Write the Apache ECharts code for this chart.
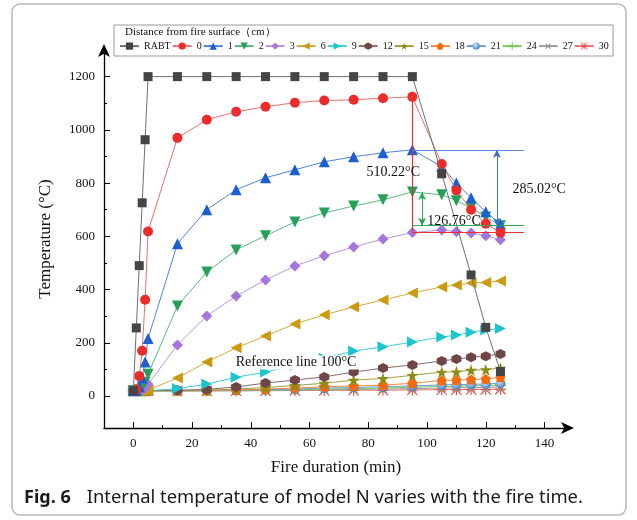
<!DOCTYPE html>
<html>
<head>
<meta charset="utf-8">
<script src="https://cdn.jsdelivr.net/npm/echarts@6/dist/echarts.min.js"></script>
<style>
  html, body { margin: 0; padding: 0; background: #fff; }
  #chart { width: 637px; height: 520px; }
</style>
</head>
<body>
<div id="chart"></div>
<script>
// Fire duration (min) at which temperatures were recorded
const times = [0, 1, 2, 3, 4, 5, 15, 25, 35, 45, 55, 65, 75, 85, 95, 105, 110, 115, 120, 125];

// RABT curve and internal temperatures (°C) at each depth below the fire surface (cm)
const rabt = [20, 256, 490, 726, 963, 1200, 1200, 1200, 1200, 1200, 1200, 1200, 1200, 1200, 1200, 835, null, 455, 258, 92];
const d0  = [20, 25, 75, 170, 362, 618, 970, 1038, 1068, 1087, 1102, 1110, 1113, 1119, 1124, 872, 772, 700, 647, 614];
const d1  = [20, 21, 35, 68, 128, 216, 572, 700, 775, 820, 850, 880, 899, 914, 925, 862, 800, 745, 692, 645];
const d2  = [20, 20, 24, 33, 52, 82, 338, 466, 549, 602, 654, 688, 714, 737, 767, 756, 734, 707, 673, 640];
const d3  = [20, 20, 21, 24, 30, 44, 192, 301, 376, 436, 489, 527, 560, 590, 614, 624, 617, 613, 602, 587];
const d6  = [20, 20, 20, 20, 21, 23, 68, 128, 181, 226, 271, 305, 335, 361, 387, 410, 417, 425, 427, 432];
const d9  = [20, 20, 20, 20, 20, 20, 28, 45, 71, 90, 116, 142, 169, 185, 203, 222, 229, 240, 248, 254];
const d12 = [20, 20, 20, 20, 20, 20, 22, 25, 34, 49, 60, 72, 90, 105, 117, 132, 139, 146, 150, 158];
const d15 = [20, 20, 20, 20, 20, 20, 20, 22, 26, 32, 40, 48, 60, 66, 78, 90, 91, 97, 99, 105];
const d18 = [20, 20, 20, 20, 20, 20, 20, 21, 23, 26, 30, 35, 38, 41, 48, 58, 60, 62, 64, 71];
const d21 = [20, 20, 20, 20, 20, 20, 20, 20, 22, 24, 26, 30, 32, 35, 38, 42, 43, 44, 45, 48];
const d24 = [20, 20, 20, 20, 20, 20, 20, 20, 21, 22, 24, 26, 28, 30, 33, 36, 37, 38, 39, 41];
const d27 = [20, 20, 20, 20, 20, 20, 20, 20, 20, 21, 22, 23, 25, 26, 28, 30, 31, 32, 33, 34];
const d30 = [20, 20, 20, 20, 20, 20, 20, 20, 20, 20, 21, 21, 22, 22, 23, 24, 24, 25, 25, 26];

const seriesNames = ['RABT', '0', '1', '2', '3', '6', '9', '12', '15', '18', '21', '24', '27', '30'];
const seriesValues = [rabt, d0, d1, d2, d3, d6, d9, d12, d15, d18, d21, d24, d27, d30];

// Axis ticks and labels
const xLabels = [0, 20, 40, 60, 80, 100, 120, 140];
const xMinor = [10, 30, 50, 70, 90, 110, 130];
const yLabels = [0, 200, 400, 600, 800, 1000, 1200];
const yMinor = [100, 300, 500, 700, 900, 1100];

// Annotated temperature drops after the 95 min peak
const peak0 = 1124, drop0 = 510.22;
const peak2 = 766.76, drop2 = 126.76;
const drop1 = 285.02;
const refLevel = 100;

const serif = '"Liberation Serif", "Times New Roman", serif';
const sans = '"Noto Sans", "Open Sans", sans-serif';

const hexagon = 'path://M5,0 L9.33,2.5 L9.33,7.5 L5,10 L0.67,7.5 L0.67,2.5 Z';
const star = 'path://M5,0 L6.18,3.62 L10,3.62 L6.91,5.85 L8.09,9.47 L5,7.24 L1.91,9.47 L3.09,5.85 L0,3.62 L3.82,3.62 Z';
const pentagon = 'path://M5,0 L10,3.7 L8.1,10 L1.9,10 L0,3.7 Z';
const plus = 'path://M4.4,0 H5.6 V4.4 H10 V5.6 H5.6 V10 H4.4 V5.6 H0 V4.4 H4.4 Z';
const asterisk = 'path://M4.5,0 H5.5 V10 H4.5 Z M0,4.5 H10 V5.5 H0 Z M0,0.7 L0.7,0 L10,9.3 L9.3,10 Z M10,0.7 L9.3,0 L0,9.3 L0.7,10 Z';

const styles = [
  { color: '#454545', line: '#707070', symbol: 'rect', size: 9 },
  { color: '#ee2b2b', line: '#e87070', symbol: 'circle', size: 10 },
  { color: '#1d5fd0', line: '#4f82d8', symbol: 'triangle', size: 11 },
  { color: '#27a05a', line: '#5ab884', symbol: 'triangle', size: 11, rotate: 180 },
  { color: '#a574dc', line: '#b895e0', symbol: 'diamond', size: 11 },
  { color: '#cc9a10', line: '#d2aa40', symbol: 'triangle', size: 11, rotate: 90 },
  { color: '#1cc4cc', line: '#3ccfd6', symbol: 'triangle', size: 11, rotate: -90 },
  { color: '#6e4646', line: '#8a6a6a', symbol: hexagon, size: 10 },
  { color: '#8c8c12', line: '#a0a040', symbol: star, size: 12 },
  { color: '#f56a0c', line: '#f08a40', symbol: pentagon, size: 10 },
  { color: {
      type: 'radial', x: 0.4, y: 0.35, r: 0.65,
      colorStops: [{ offset: 0, color: '#d8e8f8' }, { offset: 1, color: '#4a7fc0' }]
    }, line: '#6a9ad0', symbol: 'circle', size: 10 },
  { color: '#5fbf3a', line: '#7acc5a', symbol: plus, size: 10 },
  { color: '#8a8a8a', line: '#9a9a9a', symbol: plus, size: 11, rotate: 45 },
  { color: '#e84848', line: '#ee7070', symbol: asterisk, size: 11 }
];

const series = seriesNames.map((name, i) => {
  const st = styles[i];
  return {
    name: name,
    type: 'line',
    data: times.map((t, k) => [t, seriesValues[i][k]]),
    connectNulls: true,
    symbol: st.symbol,
    symbolSize: st.size,
    symbolRotate: st.rotate || 0,
    itemStyle: { color: st.color },
    lineStyle: { color: st.line, width: 1 },
    z: 3 + (seriesNames.length - i) * 0.01,
    animation: false
  };
});

// Annotation lines, values and reference line
series.push({
  name: 'annotations',
  type: 'line',
  data: [],
  z: 6,
  silent: true,
  animation: false,
  markLine: {
    silent: true,
    animation: false,
    symbol: ['none', 'none'],
    label: { show: false },
    data: [
      [{ coord: [95, peak0], lineStyle: { color: '#e83030', width: 1.2, type: 'solid' } }, { coord: [95, peak0 - drop0] }],
      [{ coord: [95, peak0 - drop0], lineStyle: { color: '#e83030', width: 1.2, type: 'solid' } }, { coord: [133, peak0 - drop0] }],
      [{ coord: [95, peak2 - drop2 + drop1], lineStyle: { color: '#5a8ad8', width: 1.2, type: 'solid' } }, { coord: [133, peak2 - drop2 + drop1] }],
      [{ coord: [95, peak2 - drop2], lineStyle: { color: '#2aa858', width: 1.2, type: 'solid' } }, { coord: [133, peak2 - drop2] }],
      [{ yAxis: refLevel, lineStyle: { color: '#e0287a', width: 2, type: [9, 5] } }, { yAxis: refLevel }]
    ]
  }
});
series.push({
  name: 'arrows',
  type: 'line',
  data: [],
  z: 6,
  silent: true,
  animation: false,
  markLine: {
    silent: true,
    animation: false,
    symbol: ['arrow', 'arrow'],
    symbolSize: [6, 8],
    label: { show: false },
    data: [
      [{ coord: [123.8, peak2 - drop2 + drop1], lineStyle: { color: '#3a6ed0', width: 1, type: 'solid' }, itemStyle: { color: '#3a6ed0' } }, { coord: [123.8, peak2 - drop2] }],
      [{ coord: [98.3, peak2], lineStyle: { color: '#2aa858', width: 1, type: 'solid' }, itemStyle: { color: '#2aa858' } }, { coord: [98.3, peak2 - drop2] }]
    ]
  }
});
series.push({
  name: 'labels',
  type: 'scatter',
  data: [],
  z: 10,
  silent: true,
  animation: false,
  markPoint: {
    silent: true,
    animation: false,
    symbol: 'circle',
    symbolSize: 0,
    label: { show: true, position: 'inside', color: '#111', fontFamily: serif, fontSize: 14 },
    data: [
      { coord: [88.5, 842], value: 0, label: { formatter: drop0.toFixed(2) + '°C' } },
      { coord: [138.2, 775], value: 0, label: { formatter: drop1.toFixed(2) + '°C' } },
      { coord: [109.2, 656], value: 0, label: { formatter: drop2.toFixed(2) + '°C' } },
      { coord: [55.4, 126], value: 0, label: { formatter: 'Reference line ' + refLevel + '°C', backgroundColor: '#fff', padding: [0, 1] } }
    ]
  }
});

const plain = v => String(v);

const option = {
  backgroundColor: '#fff',
  animation: false,
  grid: { left: 104, right: 69, top: 50, bottom: 92 },
  legend: {
    data: seriesNames,
    left: 119,
    top: 41,
    itemWidth: 19,
    itemHeight: 9,
    itemGap: 1,
    padding: 0,
    textStyle: { fontFamily: serif, fontSize: 10, color: '#111' },
    selectedMode: false
  },
  xAxis: [{
    type: 'value',
    min: -10,
    max: 148,
    name: 'Fire duration (min)',
    nameLocation: 'middle',
    nameGap: 31,
    nameTextStyle: { fontFamily: serif, fontSize: 17, color: '#111' },
    axisLine: { show: true, onZero: false, lineStyle: { color: '#000', width: 1.3 }, symbol: ['none', 'arrow'], symbolSize: [9, 13], symbolOffset: [0, 6] },
    axisTick: { show: true, inside: true, length: 6, lineStyle: { color: '#000' }, customValues: xLabels },
    axisLabel: { customValues: xLabels, formatter: plain, fontFamily: serif, fontSize: 13, color: '#111', margin: 9 },
    splitLine: { show: false }
  }, {
    type: 'value',
    min: -10,
    max: 148,
    position: 'bottom',
    axisLine: { show: false, onZero: false },
    axisTick: { show: true, inside: true, length: 3, lineStyle: { color: '#000' }, customValues: xMinor },
    axisLabel: { show: false },
    splitLine: { show: false }
  }],
  yAxis: [{
    type: 'value',
    min: -120,
    max: 1300,
    name: 'Temperature (°C)',
    nameLocation: 'middle',
    nameGap: 50,
    nameTextStyle: { fontFamily: serif, fontSize: 17, color: '#111' },
    axisLine: { show: true, onZero: false, lineStyle: { color: '#000', width: 1.3 }, symbol: ['none', 'arrow'], symbolSize: [9, 13], symbolOffset: [0, 6] },
    axisTick: { show: true, inside: true, length: 6, lineStyle: { color: '#000' }, customValues: yLabels },
    axisLabel: { customValues: yLabels, formatter: plain, fontFamily: serif, fontSize: 13, color: '#111', margin: 9 },
    splitLine: { show: false }
  }, {
    type: 'value',
    min: -120,
    max: 1300,
    position: 'left',
    axisLine: { show: false, onZero: false },
    axisTick: { show: true, inside: true, length: 3, lineStyle: { color: '#000' }, customValues: yMinor },
    axisLabel: { show: false },
    splitLine: { show: false }
  }],
  graphic: [
    {
      type: 'rect',
      shape: { x: 12, y: 4, width: 614, height: 511, r: 8 },
      style: { fill: 'none', stroke: '#b8b8b8', lineWidth: 1.5 },
      silent: true, z: 0
    },
    {
      type: 'rect',
      shape: { x: 114, y: 25, width: 499, height: 31 },
      style: { fill: '#fff', stroke: '#9a9a9a', lineWidth: 1 },
      silent: true, z: -1
    },
    {
      type: 'text',
      left: 125, top: 27,
      style: { text: 'Distance from fire surface（cm）', font: '11px ' + serif, fill: '#111' },
      silent: true
    },
    {
      type: 'text',
      left: 24, top: 489,
      style: {
        text: '{b|Fig. 6}Internal temperature of model N varies with the fire time.',
        rich: {
          b: { fontFamily: sans, fontWeight: 'bold', fontSize: 18, fill: '#1a1a1a', padding: [0, 16, 0, 0] }
        },
        font: '18.4px ' + sans,
        fill: '#1a1a1a'
      },
      silent: true
    }
  ],
  series: series
};

const chart = echarts.init(document.getElementById('chart'), null, { renderer: 'canvas' });
chart.setOption(option);
</script>
</body>
</html>
